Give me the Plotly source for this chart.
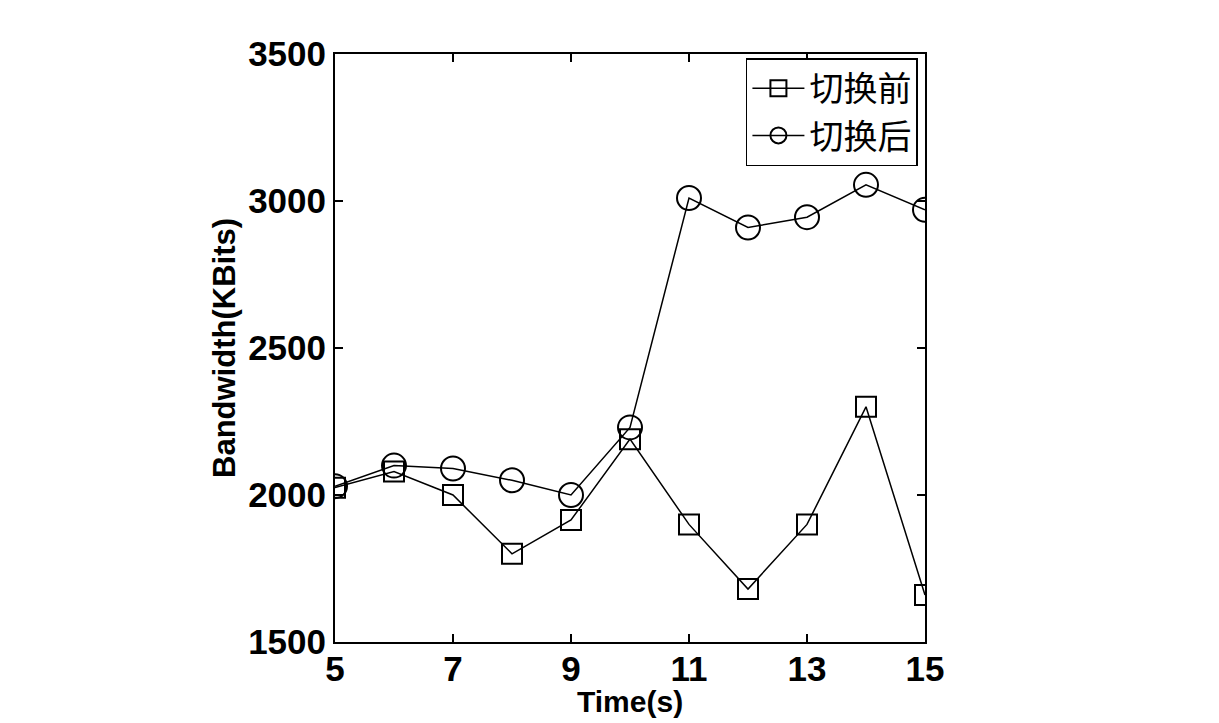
import plotly.graph_objects as go

time_s = [5, 6, 7, 8, 9, 10, 11, 12, 13, 14, 15]
before_switch = [2025, 2080, 2000, 1800, 1915, 2190, 1900, 1680, 1900, 2300, 1660]
after_switch = [2030, 2100, 2090, 2050, 2000, 2230, 3010, 2910, 2945, 3055, 2970]
series_names = ["切换前", "切换后"]
x_ticks = [5, 7, 9, 11, 13, 15]
y_ticks = [1500, 2000, 2500, 3000, 3500]
x_title = "Time(s)"
y_title = "Bandwidth(KBits)"

fig = go.Figure()
fig.add_trace(go.Scatter(
    x=time_s, y=before_switch, name=series_names[0], mode="lines+markers",
    line=dict(color="black", width=1.5),
    marker=dict(symbol="square-open", size=20, color="black", line=dict(width=2)),
))
fig.add_trace(go.Scatter(
    x=time_s, y=after_switch, name=series_names[1], mode="lines+markers",
    line=dict(color="black", width=1.5),
    marker=dict(symbol="circle-open", size=24, color="black", line=dict(width=2)),
))

tick_font = dict(family="Liberation Sans, Arial", size=35, color="black", weight="bold")
title_font = dict(family="Liberation Sans, Arial", size=30, color="black", weight="bold")
ytitle_font = dict(family="Liberation Sans, Arial", size=31, color="black", weight="bold")

fig.update_xaxes(
    range=[5, 15], tickvals=x_ticks, ticks="inside", ticklen=8, tickwidth=2, tickcolor="black",
    showline=True, linecolor="black", linewidth=2, mirror="ticks", showgrid=False, zeroline=False,
    tickfont=tick_font, ticklabelstandoff=-5,
)
fig.update_yaxes(
    range=[1500, 3500], tickvals=y_ticks, ticks="inside", ticklen=8, tickwidth=2, tickcolor="black",
    showline=True, linecolor="black", linewidth=2, mirror="ticks", showgrid=False, zeroline=False,
    tickfont=tick_font,
)
fig.add_annotation(text=x_title, xref="paper", yref="paper", x=0.5, y=0,
                   xanchor="center", yanchor="middle", yshift=-59, showarrow=False, font=title_font)
fig.add_annotation(text=y_title, xref="paper", yref="paper", x=0, y=0.5, textangle=-90,
                   xanchor="center", yanchor="middle", xshift=-111, showarrow=False, font=ytitle_font)
fig.update_layout(
    width=1211, height=715,
    margin=dict(l=327, r=294, t=46, b=81),
    paper_bgcolor="white", plot_bgcolor="white",
    showlegend=True,
    legend=dict(
        x=0.988, y=0.993, xanchor="right", yanchor="top",
        bgcolor="white", bordercolor="black", borderwidth=1.5,
        font=dict(family="Noto Sans CJK SC", size=34, color="black"),
        itemwidth=52,
    ),
)
fig.write_html("out.html")
